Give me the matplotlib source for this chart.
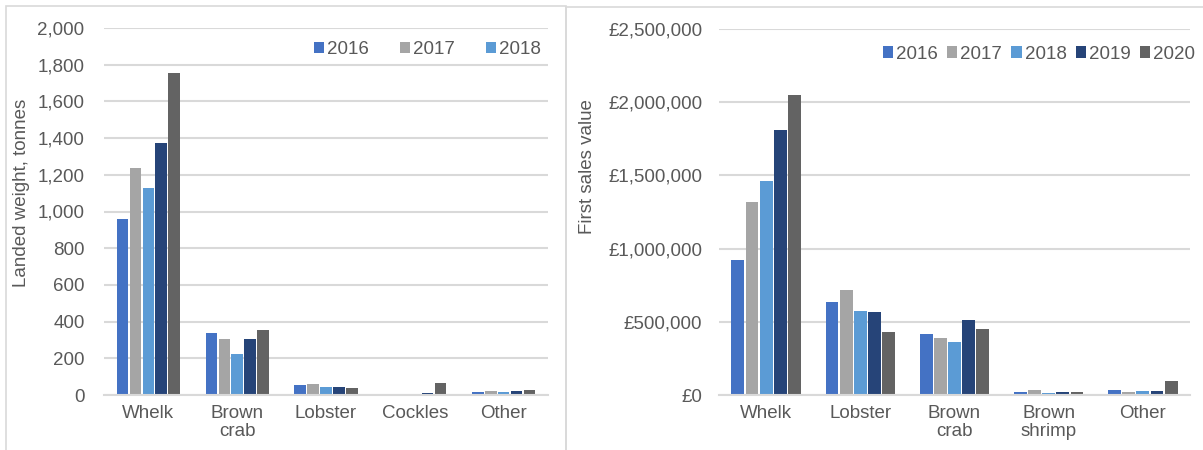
import matplotlib
matplotlib.use("Agg")
import matplotlib.pyplot as plt
from matplotlib.patches import Rectangle
from matplotlib.ticker import FuncFormatter, MultipleLocator
import numpy as np

plt.rcParams['font.family'] = ['Liberation Sans', 'DejaVu Sans']

# Landed weight (tonnes) by species
weight_species = ["Whelk", "Brown\ncrab", "Lobster", "Cockles", "Other"]
weight_2016 = [960, 336, 53, 0, 16]
weight_2017 = [1238, 305, 58, 0, 22]
weight_2018 = [1128, 221, 42, 0, 16]
weight_2019 = [1373, 305, 42, 11, 24]
weight_2020 = [1755, 352, 36, 64, 27]

# First sales value (GBP) by species
value_species = ["Whelk", "Lobster", "Brown\ncrab", "Brown\nshrimp", "Other"]
value_2016 = [923000, 635000, 418000, 20000, 34000]
value_2017 = [1320000, 714000, 390000, 34000, 20000]
value_2018 = [1465000, 575000, 363000, 14000, 27000]
value_2019 = [1810000, 568000, 511000, 20000, 30000]
value_2020 = [2046000, 429000, 452000, 20000, 94000]

years = ["2016", "2017", "2018", "2019", "2020"]
colors = ["#4472C4", "#A5A5A5", "#5B9BD5", "#264478", "#636363"]

TEXT = "#595959"
GRID = "#D9D9D9"
FS = 13.5

W, H = 1203, 450
fig = plt.figure(figsize=(W / 100, H / 100), dpi=100)

# light frames around each chart
for x0, x1, y0 in [(6, 566, 6), (566, 1210, 7)]:
    fig.patches.append(Rectangle((x0 / W, -0.05), (x1 - x0) / W, 1 - y0 / H + 0.05,
                                 transform=fig.transFigure, fill=False,
                                 edgecolor="#D9D9D9", linewidth=1.2))


def grouped_bars(ax, cats, series, step, gap):
    x = np.arange(len(cats))
    n = len(series)
    handles = []
    for i, (vals, c, yr) in enumerate(zip(series, colors, years)):
        off = (i - (n - 1) / 2) * step
        b = ax.bar(x + off, vals, width=step - gap, color=c, linewidth=0,
                   label=yr, zorder=3)
        handles.append(b)
    ax.set_xlim(-0.5, len(cats) - 0.5)
    ax.set_xticks(x)
    ax.set_xticklabels(cats, fontsize=FS, color=TEXT, linespacing=1.1)
    ax.tick_params(axis="x", length=0, pad=7)
    ax.tick_params(axis="y", length=0, labelsize=FS, labelcolor=TEXT)
    ax.yaxis.grid(True, color=GRID, linewidth=1.5, zorder=0)
    for s in ["top", "right", "left"]:
        ax.spines[s].set_visible(False)
    ax.spines["bottom"].set_color(GRID)
    ax.spines["bottom"].set_linewidth(1.5)
    ax.spines["bottom"].set_zorder(4)
    return handles


# Left chart: landed weight
ax1 = fig.add_axes([104 / W, (H - 395) / H, 444 / W, 367 / H])
h1 = grouped_bars(ax1, weight_species,
                  [weight_2016, weight_2017, weight_2018, weight_2019, weight_2020],
                  0.145, 0.014)
ax1.set_ylim(0, 2000)
ax1.yaxis.set_major_locator(MultipleLocator(200))
ax1.yaxis.set_major_formatter(FuncFormatter(lambda v, p: f"{v:,.0f}"))
ax1.tick_params(axis="y", pad=14)
ax1.set_ylabel("Landed weight, tonnes", fontsize=FS, color=TEXT)
ax1.yaxis.set_label_coords(-0.167, 0.55)
ax1.legend(h1[:3], years[:3], loc="upper right", bbox_to_anchor=(1.0, 0.985),
           ncol=3, frameon=False, fontsize=FS, labelcolor=TEXT,
           handlelength=0.55, handleheight=0.55, handletextpad=0.15,
           columnspacing=1.65, borderaxespad=0)

# Right chart: first sales value
ax2 = fig.add_axes([719 / W, (H - 395) / H, 471 / W, 366 / H])
h2 = grouped_bars(ax2, value_species,
                  [value_2016, value_2017, value_2018, value_2019, value_2020],
                  0.15, 0.014)
ax2.set_ylim(0, 2500000)
ax2.yaxis.set_major_locator(MultipleLocator(500000))
ax2.yaxis.set_major_formatter(FuncFormatter(lambda v, p: f"£{v:,.0f}"))
ax2.tick_params(axis="y", pad=12)
ax2.set_ylabel("First sales value", fontsize=FS, color=TEXT)
ax2.yaxis.set_label_coords(-0.262, 0.623)
ax2.legend(h2, years, loc="upper right", bbox_to_anchor=(1.027, 0.975),
           ncol=5, frameon=False, fontsize=FS, labelcolor=TEXT,
           handlelength=0.55, handleheight=0.55, handletextpad=0.15,
           columnspacing=0.5, borderaxespad=0)

fig.savefig("out.png", dpi=100)
